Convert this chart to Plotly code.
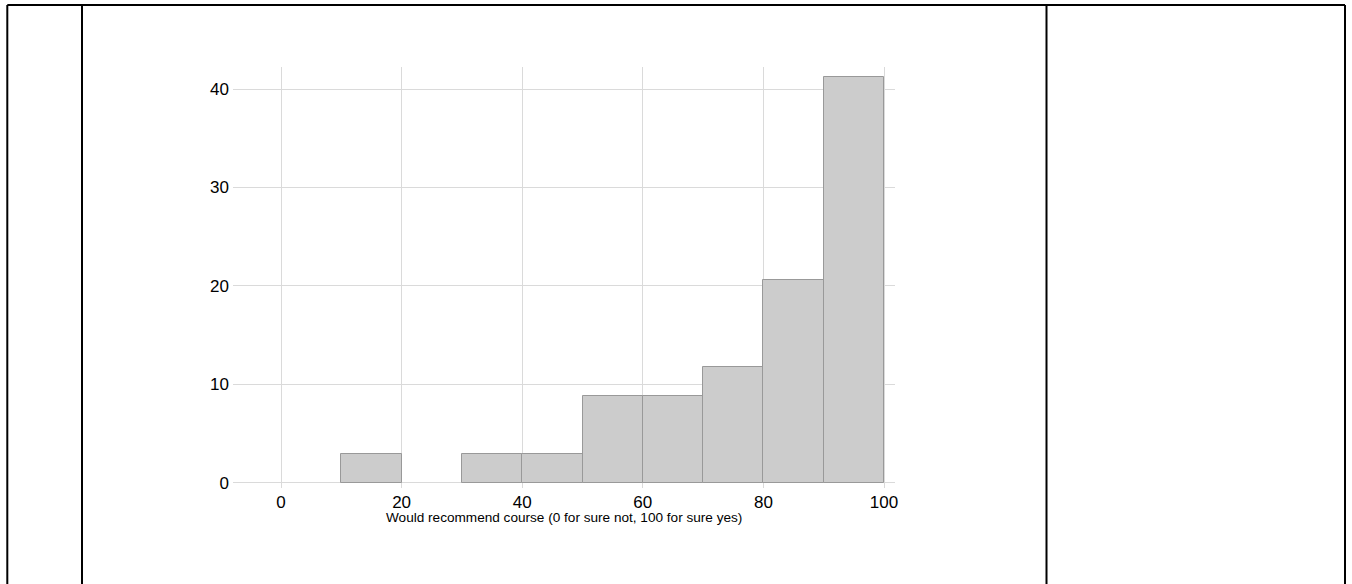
import plotly.graph_objects as go

bin_centers = [15, 35, 45, 55, 65, 75, 85, 95]
percent = [2.94, 2.94, 2.94, 8.82, 8.82, 11.76, 20.59, 41.18]
x_ticks = [0, 20, 40, 60, 80, 100]
y_ticks = [0, 10, 20, 30, 40]
x_title = "Would recommend course (0 for sure not, 100 for sure yes)"

W, H = 1352, 584
L, R, T, B = 233, 895, 67, 488

fig = go.Figure()
fig.add_trace(go.Bar(
    x=bin_centers, y=percent, width=10,
    marker=dict(color="#cccccc", line=dict(color="#999999", width=1)),
    hoverinfo="x+y",
))

def px_x(p):
    return (p - L) / (R - L)

def px_y(p):
    return (B - p) / (B - T)

shapes = []
line = dict(color="black", width=2)
for xv in [7.3, 82, 1046.5, 1345]:
    shapes.append(dict(type="line", xref="paper", yref="paper",
                       x0=px_x(xv), x1=px_x(xv), y0=px_y(5), y1=px_y(600), line=line))
shapes.append(dict(type="line", xref="paper", yref="paper",
                   x0=px_x(7.3), x1=px_x(1345), y0=px_y(5), y1=px_y(5), line=line))

fig.update_layout(
    width=W, height=H,
    margin=dict(l=L, r=W - R, t=T, b=H - B, pad=0),
    paper_bgcolor="white", plot_bgcolor="white",
    showlegend=False,
    bargap=0,
    font=dict(family="Liberation Sans, Arial, sans-serif", color="black", size=17),
    xaxis=dict(range=[-7.96, 101.82], tickvals=x_ticks, showgrid=True,
               gridcolor="#dadada", gridwidth=1, zeroline=False, showline=False,
               ticks="", tickfont=dict(size=17), ticklabelstandoff=2),
    yaxis=dict(range=[-0.54, 42.24], tickvals=y_ticks, showgrid=True,
               gridcolor="#dadada", gridwidth=1, zeroline=False, showline=False,
               ticks="", tickfont=dict(size=17), ticklabelstandoff=3),
    shapes=shapes,
    annotations=[dict(text=x_title, xref="x", yref="paper", x=47, y=px_y(517),
                      xanchor="center", yanchor="middle", showarrow=False,
                      font=dict(size=13.6, color="black"))],
)

fig.write_html("out.html", config={"displayModeBar": False},
               post_script="document.body.style.margin='0';document.body.style.overflow='hidden';")
